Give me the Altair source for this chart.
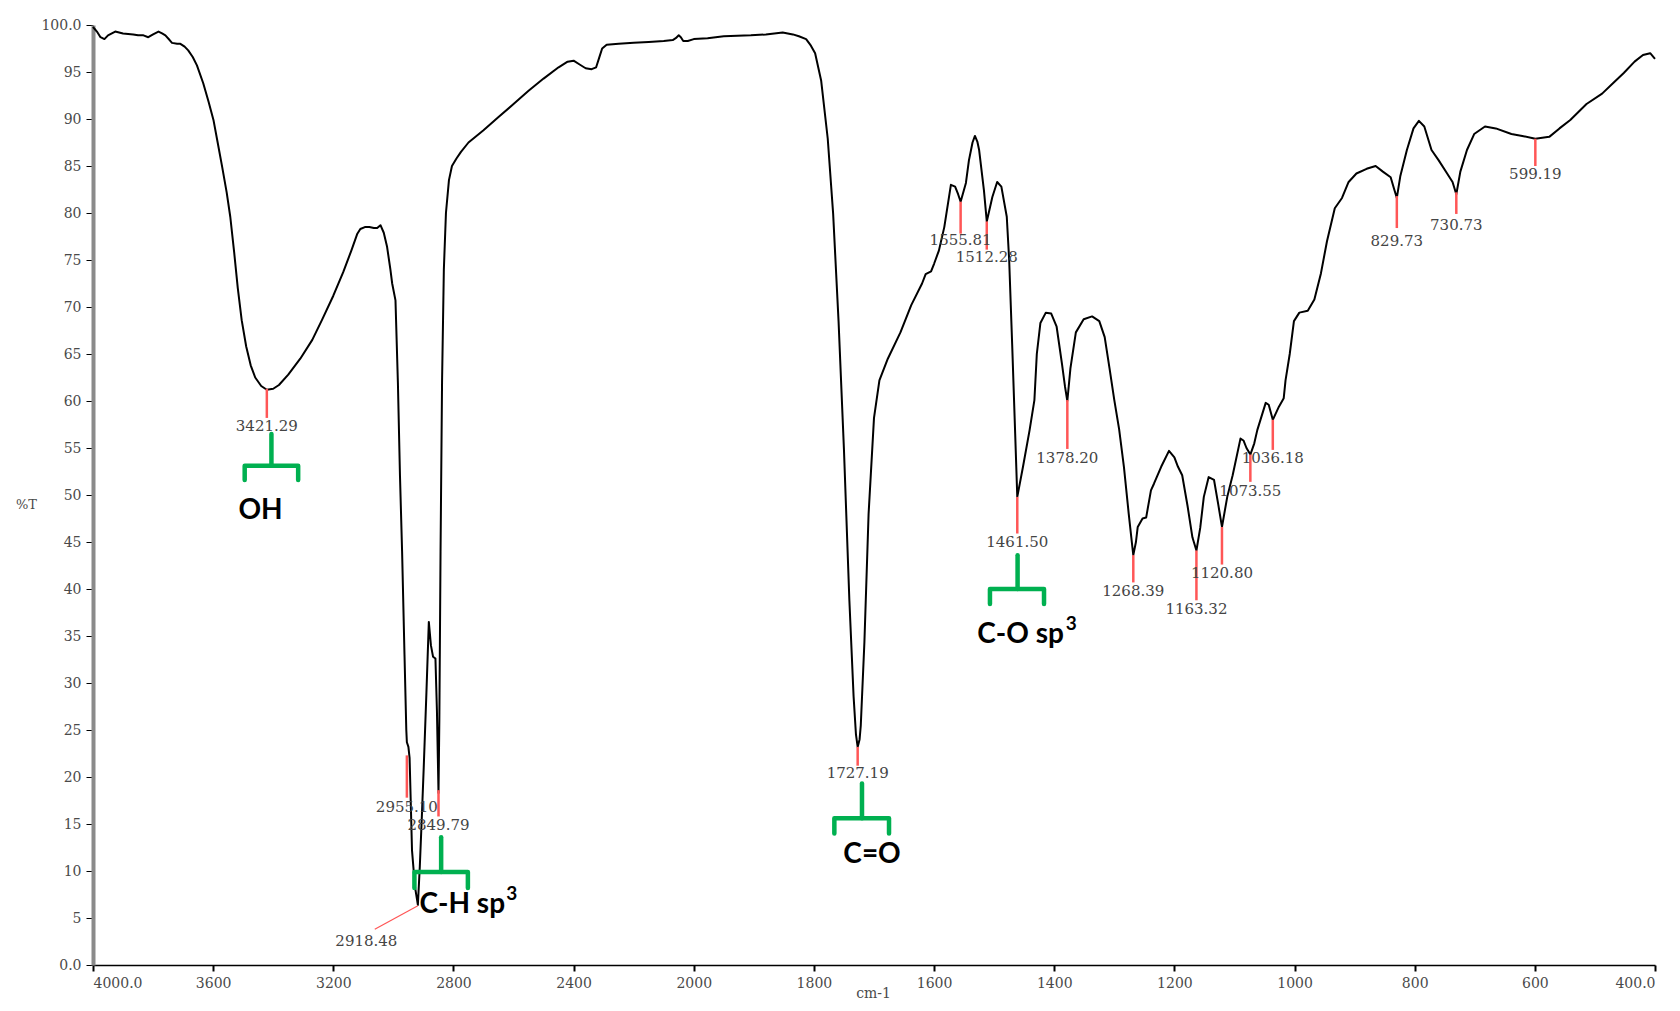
import altair as alt
import pandas as pd

# ---- spectrum ----
wavenumber = [4000, 3995, 3987, 3975, 3962, 3950, 3926, 3900, 3866, 3850, 3832, 3816, 3800, 3782, 3770,
              3759, 3745, 3737, 3720, 3709, 3695, 3683, 3668, 3654, 3633, 3615, 3599, 3585, 3570, 3555,
              3543, 3530, 3518, 3505, 3490, 3475, 3460, 3440, 3421.29, 3400, 3381, 3350, 3310, 3270, 3238, 3200,
              3167, 3140, 3120, 3110, 3095, 3080, 3065, 3054, 3043, 3032, 3021, 3010, 3004, 2993, 2985,
              2978, 2971, 2963, 2957, 2955.1, 2950, 2946, 2938, 2928, 2921, 2918.48, 2912, 2905, 2899, 2890,
              2882, 2875, 2868, 2860, 2855, 2852, 2849.79, 2847, 2843, 2838, 2832, 2825, 2815, 2805, 2790,
              2775, 2750, 2700, 2650, 2600, 2550, 2500, 2450, 2420, 2400, 2380, 2360, 2340, 2325, 2315,
              2305, 2290, 2250, 2200, 2150, 2100, 2070, 2060, 2050, 2043, 2035, 2020, 2000, 1977, 1950,
              1905, 1880, 1852, 1835, 1825, 1813, 1805, 1798, 1788, 1777, 1768, 1759, 1750, 1741, 1734,
              1730, 1727.19, 1724, 1722, 1716, 1709, 1700, 1691, 1677, 1656, 1638, 1620, 1614, 1605, 1600,
              1592, 1583, 1572, 1565, 1560, 1555.81, 1547, 1542, 1536, 1532, 1528, 1525, 1517, 1512.28, 1503,
              1495, 1488, 1479, 1475, 1470, 1465, 1461.5, 1452, 1441, 1433, 1429, 1423, 1414, 1405, 1396,
              1387, 1382, 1378.2, 1373, 1364, 1351, 1337, 1325, 1316, 1308, 1300, 1292, 1284, 1276, 1270,
              1268.39, 1264, 1261, 1253, 1247, 1239, 1234, 1222, 1209, 1200, 1194, 1187, 1178, 1170, 1163.32,
              1157, 1151, 1143, 1134, 1127, 1120.8, 1112, 1103, 1090, 1085, 1080, 1073.55, 1067, 1062, 1048,
              1043, 1036.18, 1026, 1018, 1015, 1008, 1001, 992, 978, 967, 956, 946, 933, 921, 910,
              897, 880, 865, 853, 840, 834, 829.73, 824, 813, 802, 793, 784, 772, 760, 746,
              737, 730.73, 724, 713, 701, 683, 665, 639, 621, 599.19, 576, 559, 541, 514, 488,
              470, 452, 434, 420, 408, 400]
transmittance = [99.8, 99.6, 99.3, 98.7, 98.5, 98.9, 99.3, 99.1, 99.0, 98.9, 98.9, 98.7, 99.0, 99.3, 99.1,
                 98.9, 98.4, 98.1, 98.0, 98.0, 97.7, 97.3, 96.6, 95.7, 93.8, 91.8, 89.9, 87.5, 84.9, 82.2,
                 79.6, 75.8, 72.0, 68.6, 65.8, 63.8, 62.5, 61.6, 61.2, 61.3, 61.7, 62.8, 64.5, 66.5, 68.6, 71.2,
                 73.7, 76.0, 77.8, 78.3, 78.5, 78.5, 78.4, 78.4, 78.7, 77.9, 76.4, 74.0, 72.5, 70.7, 62.0,
                 52.0, 44.0, 33.0, 25.0, 23.7, 23.2, 22.0, 12.2, 8.3, 6.9, 6.4, 10.5, 16.0, 21.0, 29.0,
                 36.5, 34.0, 32.8, 32.6, 27.0, 22.0, 18.3, 26.0, 44.0, 62.0, 74.0, 80.0, 83.5, 85.0, 85.8,
                 86.5, 87.5, 88.8, 90.2, 91.6, 93.0, 94.3, 95.5, 96.1, 96.2, 95.8, 95.4, 95.3, 95.5, 96.5,
                 97.5, 97.9, 98.0, 98.1, 98.2, 98.3, 98.4, 98.6, 98.9, 98.7, 98.3, 98.3, 98.5, 98.6, 98.8,
                 98.9, 99.0, 99.2, 99.0, 98.8, 98.5, 97.8, 97.0, 94.1, 87.9, 79.9, 68.5, 54.8, 38.8, 28.6,
                 24.5, 23.2, 24.0, 25.5, 34.3, 48.0, 58.2, 62.2, 64.5, 67.3, 70.2, 72.5, 73.5, 73.8, 74.6,
                 76.0, 78.5, 83.0, 82.8, 82.0, 81.2, 83.2, 85.6, 87.5, 88.2, 87.6, 86.7, 82.4, 79.1, 81.7,
                 83.3, 82.8, 79.6, 75.0, 66.0, 56.5, 49.8, 53.0, 56.9, 60.1, 65.0, 68.3, 69.4, 69.3, 67.9,
                 63.9, 61.5, 60.0, 63.5, 67.3, 68.7, 69.0, 68.5, 66.8, 63.5, 60.1, 57.0, 53.0, 48.0, 44.5,
                 43.6, 45.0, 46.6, 47.5, 47.6, 50.5, 51.2, 53.0, 54.7, 54.0, 53.0, 52.1, 48.8, 45.5, 44.1,
                 46.5, 49.8, 51.9, 51.6, 49.0, 46.6, 49.8, 52.1, 56.0, 55.8, 55.0, 54.3, 55.5, 56.9, 59.8,
                 59.6, 58.0, 59.4, 60.3, 62.2, 65.0, 68.5, 69.4, 69.6, 70.8, 73.6, 77.0, 80.5, 81.6, 83.3,
                 84.2, 84.7, 85.0, 84.4, 83.8, 82.5, 81.6, 83.9, 86.7, 89.0, 89.8, 89.2, 86.7, 85.6, 84.2,
                 83.3, 82.0, 84.4, 86.7, 88.4, 89.2, 89.0, 88.4, 88.2, 87.9, 88.1, 89.0, 89.9, 91.6, 92.7,
                 93.8, 94.9, 96.1, 96.8, 97.0, 96.4]

# ---- peak markers ----
peak_wn = [3421.29, 2955.10, 2849.79, 1727.19, 1555.81, 1512.28, 1461.50, 1378.20,
           1268.39, 1163.32, 1120.80, 1073.55, 1036.18, 829.73, 730.73, 599.19]
peak_top = [61.3, 22.3, 18.6, 23.2, 81.2, 79.1, 49.8, 60.1, 43.6, 44.1, 46.6, 54.3, 58.0, 81.8, 82.2, 87.9]
peak_bottom = [58.2, 17.8, 15.8, 21.2, 77.8, 76.1, 45.9, 54.9, 40.7, 38.8, 42.6, 51.4, 54.8, 78.4, 79.9, 85.0]
peak_label_T = [57.3, 16.8, 14.9, 20.4, 77.1, 75.3, 45.0, 53.9, 39.8, 37.9, 41.7, 50.4, 53.9, 77.0, 78.7, 84.2]

# 2918.48 with a leader line
leader_wn = [2918.48, 3062]
leader_T = [6.3, 3.8]
leader_label_wn = [3090]
leader_label_T = [2.6]
leader_label = ["2918.48"]

# ---- functional group brackets ----
group_names = ["OH", "C-H sp", "C=O", "C-O sp"]
bracket_left = [3495, 2930, 1766, 1507]
bracket_right = [3317, 2752, 1675, 1417]
bracket_center = [3406, 2841, 1720, 1461]
bracket_top = [56.5, 13.6, 19.3, 43.6]
bracket_bar = [53.1, 9.9, 15.6, 40.0]
bracket_hook = [51.6, 8.2, 14.0, 38.4]
group_text_wn = [3516, 2913, 1751, 1528]
group_text_T = [48.3, 6.4, 11.7, 35.1]
sup_text = ["3", "3"]
sup_wn = [2624, 1381]
sup_T = [7.6, 36.3]

x_ticks = [4000, 3600, 3200, 2800, 2400, 2000, 1800, 1600, 1400, 1200, 1000, 800, 600, 400]
y_ticks = list(range(0, 101, 5))

W, H = 1562, 940

spec = pd.DataFrame({"wn": wavenumber, "T": transmittance, "idx": range(len(wavenumber))})
peaks = pd.DataFrame({"wn": peak_wn, "top": peak_top, "bottom": peak_bottom, "lab": peak_label_T})
leader = pd.DataFrame({"x1": [leader_wn[0]], "x2": [leader_wn[1]], "y1": [leader_T[0]], "y2": [leader_T[1]]})
leader_lab = pd.DataFrame({"wn": leader_label_wn, "T": leader_label_T, "text": leader_label})

rows = []
for i in range(len(group_names)):
    pts = [(bracket_left[i], bracket_hook[i]), (bracket_left[i], bracket_bar[i]),
           (bracket_right[i], bracket_bar[i]), (bracket_right[i], bracket_hook[i])]
    for k, (a, b) in enumerate(pts):
        rows.append({"id": f"b{i}", "k": k, "wn": a, "T": b})
    rows.append({"id": f"s{i}", "k": 0, "wn": bracket_center[i], "T": bracket_bar[i]})
    rows.append({"id": f"s{i}", "k": 1, "wn": bracket_center[i], "T": bracket_top[i]})
brackets = pd.DataFrame(rows)
groups = pd.DataFrame({"wn": group_text_wn, "T": group_text_T, "name": group_names})
sups = pd.DataFrame({"wn": sup_wn, "T": sup_T, "name": sup_text})

x_scale = alt.Scale(domain=[4000, 2000, 400], range=[0, W * 5 / 13, W], zero=False, nice=False)
y_scale = alt.Scale(domain=[0, 100], zero=False, nice=False)

serif = "DejaVu Serif"
grey = "#4a4a4a"

x_axis = alt.Axis(
    values=x_ticks,
    labelExpr="datum.value == 4000 ? '4000.0' : datum.value == 400 ? '400.0' : format(datum.value, 'd')",
    title="cm-1", titleX=780, titleY=28, titleAlign="center", titleBaseline="middle",
    titleFont=serif, titleFontSize=14, titleFontWeight="normal", titleColor=grey,
    grid=False, domainColor="black", domainWidth=1.5, tickColor="black", tickWidth=2, tickSize=6,
    labelFont=serif, labelFontSize=14, labelColor=grey, labelPadding=5, labelOverlap=False,
)
y_axis = alt.Axis(
    values=y_ticks,
    labelExpr="datum.value == 0 ? '0.0' : datum.value == 100 ? '100.0' : format(datum.value, 'd')",
    title="%T", titleAngle=0, titleX=-67, titleY=479, titleAlign="center", titleBaseline="middle",
    titleFont=serif, titleFontSize=13, titleFontWeight="normal", titleColor=grey,
    grid=False, domainColor="#8a8a8a", domainWidth=4, tickColor="black", tickWidth=1, tickSize=7,
    labelFont=serif, labelFontSize=14, labelColor=grey, labelPadding=5, labelOverlap=False,
)

X = lambda f: alt.X(f, type="quantitative", scale=x_scale, axis=x_axis)
Y = lambda f: alt.Y(f, type="quantitative", scale=y_scale, axis=y_axis)

line = alt.Chart(spec).mark_line(color="black", strokeWidth=2, strokeJoin="round").encode(
    x=X("wn"), y=Y("T"), order="idx:Q")

rules = alt.Chart(peaks).mark_rule(color="#ff5656", strokeWidth=2.5).encode(
    x=X("wn"), y=Y("top"), y2="bottom:Q")

plabels = alt.Chart(peaks).mark_text(font=serif, fontSize=15, color="#444444", baseline="middle").encode(
    x=X("wn"), y=Y("lab"), text=alt.Text("wn:Q", format=".2f"))

lead = alt.Chart(leader).mark_rule(color="#ff5656", strokeWidth=1.2).encode(
    x=X("x1"), x2="x2:Q", y=Y("y1"), y2="y2:Q")

llab = alt.Chart(leader_lab).mark_text(font=serif, fontSize=15, color="#444444", baseline="middle").encode(
    x=X("wn"), y=Y("T"), text="text:N")

br = alt.Chart(brackets).mark_line(color="#00b050", strokeWidth=4.5, strokeCap="round", strokeJoin="round").encode(
    x=X("wn"), y=Y("T"), detail="id:N", order="k:Q")

gtext = alt.Chart(groups).mark_text(font="Lato", fontWeight="bold", fontSize=28, color="black",
                                     align="left", baseline="middle").encode(
    x=X("wn"), y=Y("T"), text="name:N")

stext = alt.Chart(sups).mark_text(font="Lato", fontWeight="bold", fontSize=19, color="black",
                                   align="left", baseline="middle").encode(
    x=X("wn"), y=Y("T"), text="name:N")

chart = alt.layer(line, rules, plabels, lead, llab, br, gtext, stext).properties(
    width=W, height=H,
    autosize=alt.AutoSizeParams(type="none"),
    padding={"left": 85, "top": 17, "right": 17, "bottom": 38},
    background="white",
).configure_view(strokeWidth=0)

chart.save("out.html", embed_options={"renderer": "svg", "actions": False})
